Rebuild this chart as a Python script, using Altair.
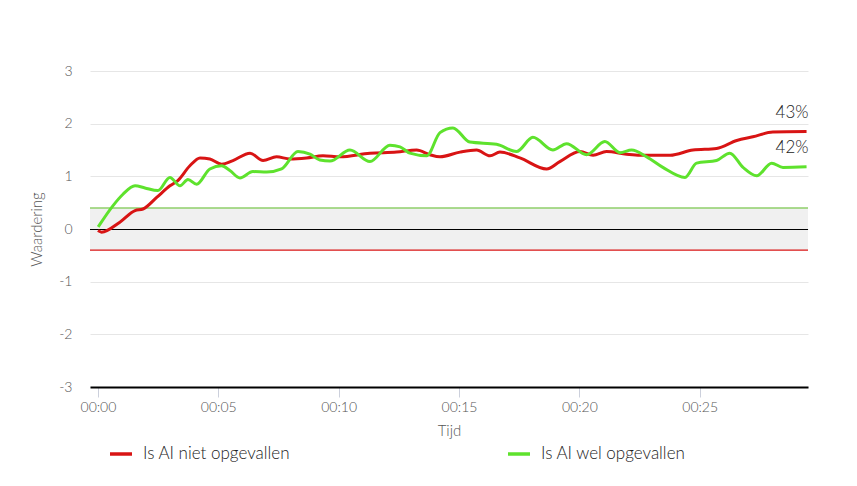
import altair as alt
import pandas as pd

series_names = ["Is AI niet opgevallen", "Is AI wel opgevallen"]
series_colors = ["#d81414", "#5ee22d"]

red_t = [0.0, 0.15, 0.91, 1.54, 1.87, 2.44, 2.99, 3.32, 3.82, 4.24, 4.65, 5.14, 5.61, 6.32,
         6.86, 7.42, 7.98, 8.67, 9.35, 10.05, 11.30, 12.41, 13.24, 13.79, 14.21, 15.04, 15.73,
         16.29, 16.70, 17.53, 18.64, 19.19, 20.03, 20.57, 21.13, 21.96, 22.52, 23.77, 24.72,
         25.70, 26.54, 27.21, 28.04, 29.44]
red_v = [-0.03, -0.06, 0.13, 0.35, 0.38, 0.60, 0.82, 0.92, 1.20, 1.35, 1.33, 1.23, 1.30, 1.44,
         1.30, 1.37, 1.33, 1.35, 1.39, 1.37, 1.44, 1.46, 1.50, 1.41, 1.37, 1.46, 1.50,
         1.39, 1.46, 1.35, 1.14, 1.28, 1.47, 1.40, 1.47, 1.42, 1.40, 1.40, 1.50,
         1.53, 1.68, 1.75, 1.84, 1.85]

green_t = [0.01, 0.62, 1.04, 1.54, 1.95, 2.49, 2.99, 3.41, 3.74, 4.10, 4.65, 5.14, 5.48, 5.90,
           6.44, 7.01, 7.63, 8.31, 8.81, 9.22, 9.64, 10.47, 11.30, 12.13, 12.55, 12.96, 13.66,
           14.21, 14.75, 15.45, 16.56, 17.39, 18.07, 18.90, 19.47, 20.30, 21.06, 21.69, 22.17,
           22.80, 23.47, 24.39, 24.87, 25.70, 26.25, 26.80, 27.37, 27.99, 28.46, 29.44]
green_v = [0.04, 0.44, 0.66, 0.82, 0.78, 0.73, 0.98, 0.82, 0.94, 0.85, 1.14, 1.20, 1.11, 0.97,
           1.09, 1.08, 1.14, 1.47, 1.42, 1.31, 1.29, 1.50, 1.28, 1.59, 1.56, 1.44, 1.39,
           1.83, 1.92, 1.65, 1.61, 1.47, 1.74, 1.50, 1.62, 1.41, 1.66, 1.45, 1.50,
           1.37, 1.17, 0.98, 1.25, 1.30, 1.44, 1.17, 1.01, 1.25, 1.17, 1.18]

end_labels = ["43%", "42%"]
x_ticks = [0, 5, 10, 15, 20, 25]
y_ticks = [-3, -2, -1, 0, 1, 2, 3]
band_low, band_high = -0.4, 0.4

df = pd.concat([
    pd.DataFrame({"t": red_t, "v": red_v, "serie": series_names[0]}),
    pd.DataFrame({"t": green_t, "v": green_v, "serie": series_names[1]}),
])
ends = pd.DataFrame({
    "t": [red_t[-1], green_t[-1]],
    "v": [red_v[-1], green_v[-1]],
    "label": end_labels,
})

FONT = "Lato"
xscale = alt.Scale(domain=[-0.33, 29.5], nice=False, zero=False)
yscale = alt.Scale(domain=[-3, 3], nice=False)

xaxis = alt.Axis(
    values=x_ticks,
    labelExpr="'00:' + (datum.value < 10 ? '0' : '') + datum.value",
    title="Tijd", grid=False, domainColor="#000000", domainWidth=2,
    tickColor="#ccd0dc", tickSize=10, labelColor="#555555", labelFontSize=14,
    labelFont=FONT, titleFont=FONT, titleColor="#555555", titleFontSize=15,
    labelFontWeight=300, titleFontWeight=300, labelPadding=3, titlePadding=9)
yaxis = alt.Axis(
    values=y_ticks, grid=True, gridColor="#e6e6e6", domain=False, ticks=False,
    labelExpr="datum.value < 0 ? '-' + abs(datum.value) : '' + datum.value",
    labelColor="#555555", labelFontSize=14, labelFont=FONT, labelPadding=18,
    labelFontWeight=300, title="Waardering", titleColor="#555555", titleFontSize=15,
    titleFont=FONT, titleFontWeight=300, titlePadding=14)

band = alt.Chart(pd.DataFrame({"lo": [band_low], "hi": [band_high]})).mark_rect(
    color="#f0f0f0"
).encode(
    y=alt.Y("lo:Q", scale=yscale, axis=yaxis), y2="hi:Q"
)

zero_rule = alt.Chart(pd.DataFrame({"y": [0]})).mark_rule(
    color="#000000", strokeWidth=1, yOffset=0.5
).encode(
    y=alt.Y("y:Q", scale=yscale, axis=yaxis)
)
hi_rule = alt.Chart(pd.DataFrame({"y": [band_high]})).mark_rule(color="#8fcf6a", strokeWidth=1.5).encode(
    y=alt.Y("y:Q", scale=yscale, axis=yaxis)
)
lo_rule = alt.Chart(pd.DataFrame({"y": [band_low]})).mark_rule(color="#d81414", strokeWidth=1.2).encode(
    y=alt.Y("y:Q", scale=yscale, axis=yaxis)
)

lines = alt.Chart(df).mark_line(strokeWidth=3, interpolate="monotone").encode(
    x=alt.X("t:Q", scale=xscale, axis=xaxis),
    y=alt.Y("v:Q", scale=yscale, axis=yaxis),
    color=alt.Color("serie:N", scale=alt.Scale(domain=series_names, range=series_colors),
                    legend=alt.Legend(orient="none", legendX=18, legendY=370,
                                      direction="horizontal", title=None,
                                      symbolType="stroke", symbolStrokeWidth=3.5,
                                      symbolSize=484, labelFontSize=17, labelFont=FONT,
                                      labelFontWeight=300,
                                      labelColor="#222222", columnPadding=210,
                                      labelOffset=9)),
)

texts = alt.Chart(ends).mark_text(
    align="right", baseline="bottom", dy=-10, dx=2, fontSize=17, font=FONT,
    fontWeight=300, color="#222222"
).encode(
    x=alt.X("t:Q", scale=xscale, axis=xaxis),
    y=alt.Y("v:Q", scale=yscale, axis=yaxis),
    text="label:N",
)

chart = alt.layer(band, zero_rule, hi_rule, lo_rule, lines, texts).properties(
    width=718, height=316,
    autosize=alt.AutoSizeParams(type="none"),
    padding={"left": 82, "top": 63, "right": 40, "bottom": 90},
).configure_view(stroke=None)

chart.save("out.html", embed_options={"renderer": "svg", "actions": False})
